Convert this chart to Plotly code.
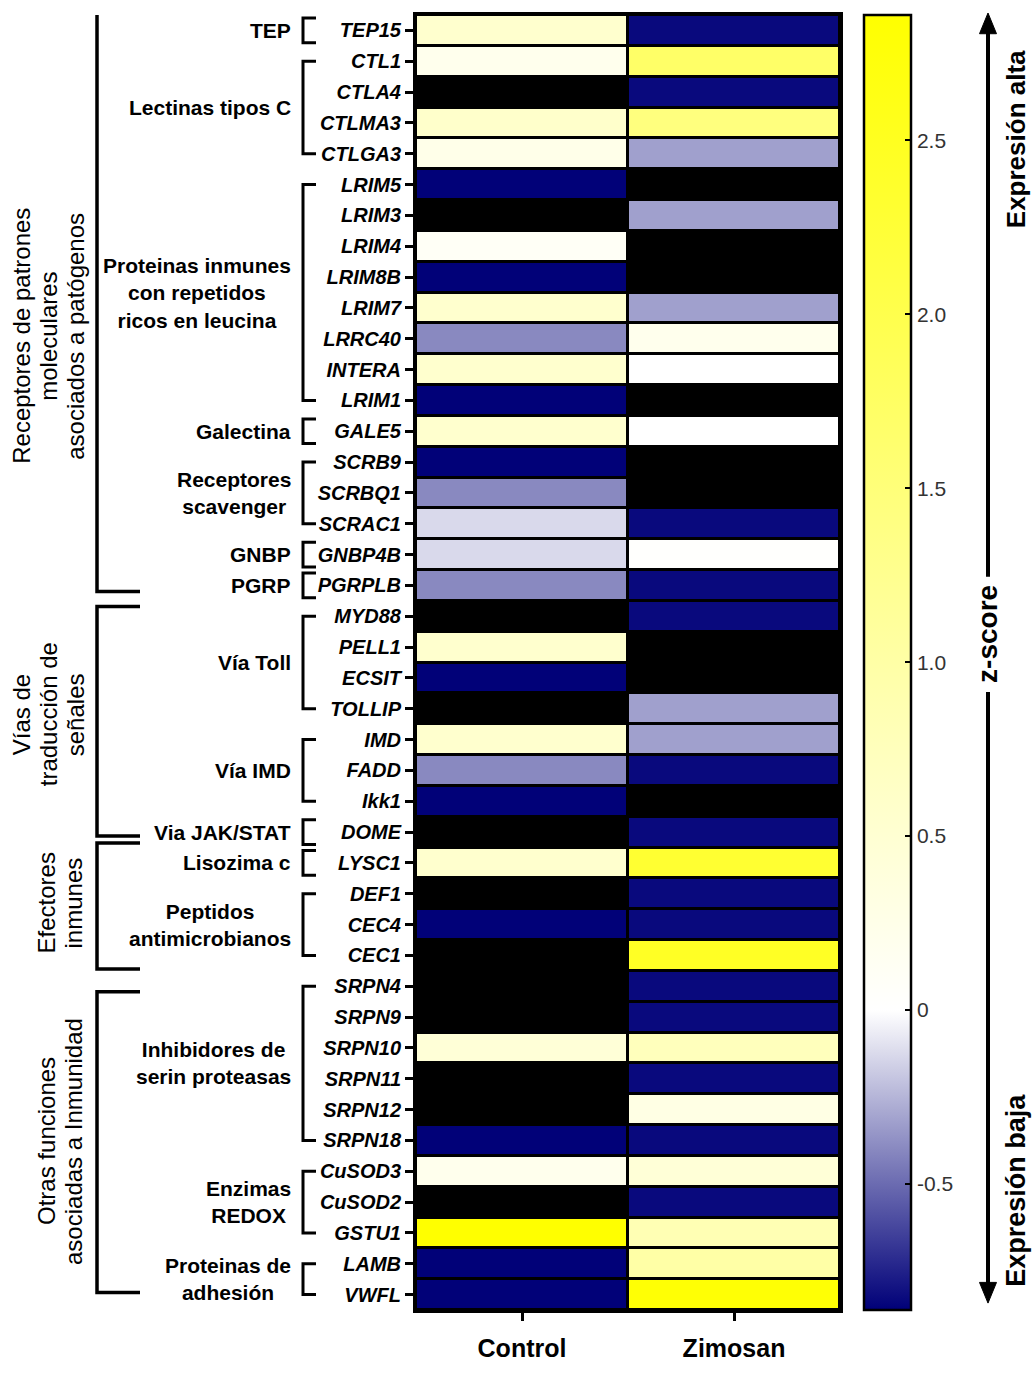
import plotly.graph_objects as go

# ---------------- data ----------------
genes = ["TEP15", "CTL1", "CTLA4", "CTLMA3", "CTLGA3", "LRIM5", "LRIM3", "LRIM4",
         "LRIM8B", "LRIM7", "LRRC40", "INTERA", "LRIM1", "GALE5", "SCRB9", "SCRBQ1",
         "SCRAC1", "GNBP4B", "PGRPLB", "MYD88", "PELL1", "ECSIT", "TOLLIP", "IMD",
         "FADD", "Ikk1", "DOME", "LYSC1", "DEF1", "CEC4", "CEC1", "SRPN4", "SRPN9",
         "SRPN10", "SRPN11", "SRPN12", "SRPN18", "CuSOD3", "CuSOD2", "GSTU1", "LAMB",
         "VWFL"]
conditions = ["Control", "Zimosan"]

control = [0.55, 0.20, None, 0.58, 0.25, -0.86, None, 0.10,
           -0.86, 0.55, -0.40, 0.55, -0.86, 0.55, -0.86, -0.40,
           -0.13, -0.13, -0.40, None, 0.55, -0.86, None, 0.55,
           -0.40, -0.86, None, 0.55, None, -0.86, None, None, None,
           0.45, None, None, -0.86, 0.20, None, 2.86, -0.86,
           -0.86]
zimosan = [-0.83, 1.70, -0.83, 1.45, -0.32, None, -0.32, None,
           None, -0.32, 0.20, 0.00, None, 0.00, None, None,
           -0.83, 0.02, -0.83, -0.83, None, None, -0.32, -0.32,
           -0.83, None, -0.83, 2.30, -0.83, -0.83, 2.45, -0.83, -0.83,
           0.75, -0.83, 0.30, -0.83, 0.45, -0.83, 0.84, 1.00,
           2.80]

cbar_tickvals = [-0.5, 0, 0.5, 1.0, 1.5, 2.0, 2.5]
cbar_ticktext = ["-0.5", "0", "0.5", "1.0", "1.5", "2.0", "2.5"]
zmin, zmax = -0.862, 2.86

# sub-groups: (label, first gene index, last gene index)
subgroups = [
    ("TEP", 0, 0),
    ("Lectinas tipos C", 1, 4),
    ("Proteinas inmunes<br>con repetidos<br>ricos en leucina", 5, 12),
    ("Galectina", 13, 13),
    ("Receptores<br>scavenger", 14, 16),
    ("GNBP", 17, 17),
    ("PGRP", 18, 18),
    ("Vía Toll", 19, 22),
    ("Vía IMD", 23, 25),
    ("Via JAK/STAT", 26, 26),
    ("Lisozima c", 27, 27),
    ("Peptidos<br>antimicrobianos", 28, 30),
    ("Inhibidores de<br>serin proteasas", 31, 36),
    ("Enzimas<br>REDOX", 37, 39),
    ("Proteinas de<br>adhesión", 40, 41),
]

# main groups: (label lines, first index, last index)
groups = [
    (["Receptores de patrones", "moleculares", "asociados a patógenos"], 0, 18),
    (["Vías de", "traducción de", "señales"], 19, 26),
    (["Efectores", "inmunes"], 27, 30),
    (["Otras funciones", "asociadas a Inmunidad"], 31, 41),
]

# ---------------- layout geometry (reference pixels) ----------------
W, H = 1036, 1374
PL, PR, PT, PB = 416, 840, 15, 1329
FONT = "Liberation Sans, Arial, Helvetica, sans-serif"

def px(x):
    return (x - PL) / (PR - PL)

def py(y):
    return (PB - y) / (PB - PT)

group_pad = [(0.66, 0.20), (0.32, 0.13), (0.65, 0.44), (-0.18, -0.07)]
group_label_pos = [(48.5, 341), (48.5, 725), (60, 916), (60, 1158)]
single_pad = 0.4

z = [[c, s] for c, s in zip(control, zimosan)]
white_pos = -zmin / (zmax - zmin)
colorscale = [[0.0, "rgb(0,0,120)"], [white_pos, "rgb(255,255,255)"], [1.0, "rgb(255,255,0)"]]

fig = go.Figure(go.Heatmap(
    z=z, x=list(range(len(conditions))), y=list(range(len(genes))),
    zmin=zmin, zmax=zmax, colorscale=colorscale,
    xgap=3, ygap=3, hoverongaps=False,
    colorbar=dict(
        x=px(864), xanchor="left", xpad=0,
        y=0.5, yanchor="middle", ypad=0,
        len=1, lenmode="fraction",
        thickness=47, thicknessmode="pixels",
        outlinecolor="black", outlinewidth=2.5,
        tickmode="array", tickvals=cbar_tickvals, ticktext=cbar_ticktext,
        ticks="inside", ticklen=7, tickwidth=2, tickcolor="black",
        tickfont=dict(size=21, color="#333333", family=FONT),
    ),
))

shapes = []
annotations = []

# colorbar left-edge ticks
for v in cbar_tickvals:
    yy = (v - zmin) / (zmax - zmin)
    shapes.append(dict(type="line", xref="paper", yref="paper",
                       x0=px(864), x1=px(871), y0=yy, y1=yy,
                       line=dict(color="black", width=2)))

# sub-group brackets and labels
for label, a, b in subgroups:
    if a == b:
        y0, y1 = a - single_pad, b + single_pad
    else:
        y0, y1 = a, b
    shapes.append(dict(
        type="path", xref="paper", yref="y",
        path=f"M {px(316)},{y0} L {px(303)},{y0} L {px(303)},{y1} L {px(316)},{y1}",
        line=dict(color="black", width=3)))
    annotations.append(dict(
        text=f"<b>{label}</b>", xref="paper", yref="y",
        x=px(293), y=(a + b) / 2, xanchor="right", yanchor="middle",
        align="center", showarrow=False,
        font=dict(size=21, color="black", family=FONT)))

# main group brackets and rotated labels
for (lines, a, b), (pt, pb), (cx, cy) in zip(groups, group_pad, group_label_pos):
    y0, y1 = a - pt, b + pb
    shapes.append(dict(
        type="path", xref="paper", yref="y",
        path=f"M {px(140)},{y0} L {px(97)},{y0} L {px(97)},{y1} L {px(140)},{y1}",
        line=dict(color="black", width=3.5)))
    n = len(lines)
    for i, t in enumerate(lines):
        xx = cx + (i - (n - 1) / 2) * 27
        annotations.append(dict(
            text=t, xref="paper", yref="paper", x=px(xx), y=py(cy),
            xanchor="center", yanchor="middle", textangle=-90, showarrow=False,
            font=dict(size=24, color="black", family=FONT)))

# right-hand arrow with labels
AX = 988
shapes.append(dict(type="line", xref="paper", yref="paper",
                   x0=px(AX), x1=px(AX), y0=py(30), y1=py(585),
                   line=dict(color="black", width=4)))
shapes.append(dict(type="line", xref="paper", yref="paper",
                   x0=px(AX), x1=px(AX), y0=py(702), y1=py(1305),
                   line=dict(color="black", width=4)))
shapes.append(dict(type="path", xref="paper", yref="paper",
                   path=f"M {px(AX-8.5)},{py(34)} L {px(AX)},{py(13)} L {px(AX+8.5)},{py(34)} Z",
                   fillcolor="black", line=dict(color="black", width=1)))
shapes.append(dict(type="path", xref="paper", yref="paper",
                   path=f"M {px(AX-8.5)},{py(1301)} L {px(AX)},{py(1322)} L {px(AX+8.5)},{py(1301)} Z",
                   fillcolor="black", line=dict(color="black", width=1)))

for txt, xx, yy, fs in [("Expresión alta", 1016, 141, 26), ("z-score", AX, 643, 28),
                        ("Expresión baja", 1016, 1208, 27)]:
    annotations.append(dict(
        text=f"<b>{txt}</b>", xref="paper", yref="paper", x=px(xx), y=py(yy),
        xanchor="center", yanchor="middle", textangle=-90, showarrow=False,
        font=dict(size=fs, color="black", family=FONT)))

fig.update_layout(
    width=W, height=H,
    margin=dict(l=PL, r=W - PR, t=PT, b=H - PB, pad=0),
    paper_bgcolor="white", plot_bgcolor="black",
    font=dict(family=FONT, color="black"),
    shapes=shapes, annotations=annotations,
    xaxis=dict(
        range=[-0.5, 1.5], tickmode="array", tickvals=list(range(len(conditions))),
        ticktext=[f"<b>{c}</b>" for c in conditions],
        ticks="outside", ticklen=8, tickwidth=3, tickcolor="black",
        ticklabelstandoff=6,
        tickfont=dict(size=25, color="black", family=FONT),
        showline=True, linewidth=3, linecolor="black", mirror=True,
        showgrid=False, zeroline=False, fixedrange=True),
    yaxis=dict(
        range=[len(genes) - 0.5, -0.5], tickmode="array", tickvals=list(range(len(genes))),
        ticktext=[f"<b><i>{g}</i></b>" for g in genes],
        ticks="outside", ticklen=8, tickwidth=3, tickcolor="black",
        tickfont=dict(size=20, color="black", family=FONT),
        showline=True, linewidth=3, linecolor="black", mirror=True,
        showgrid=False, zeroline=False, fixedrange=True),
)

fig.write_html("out.html",
               config={"displayModeBar": False},
               post_script="document.body.style.margin='0px';document.body.style.overflow='hidden';")
